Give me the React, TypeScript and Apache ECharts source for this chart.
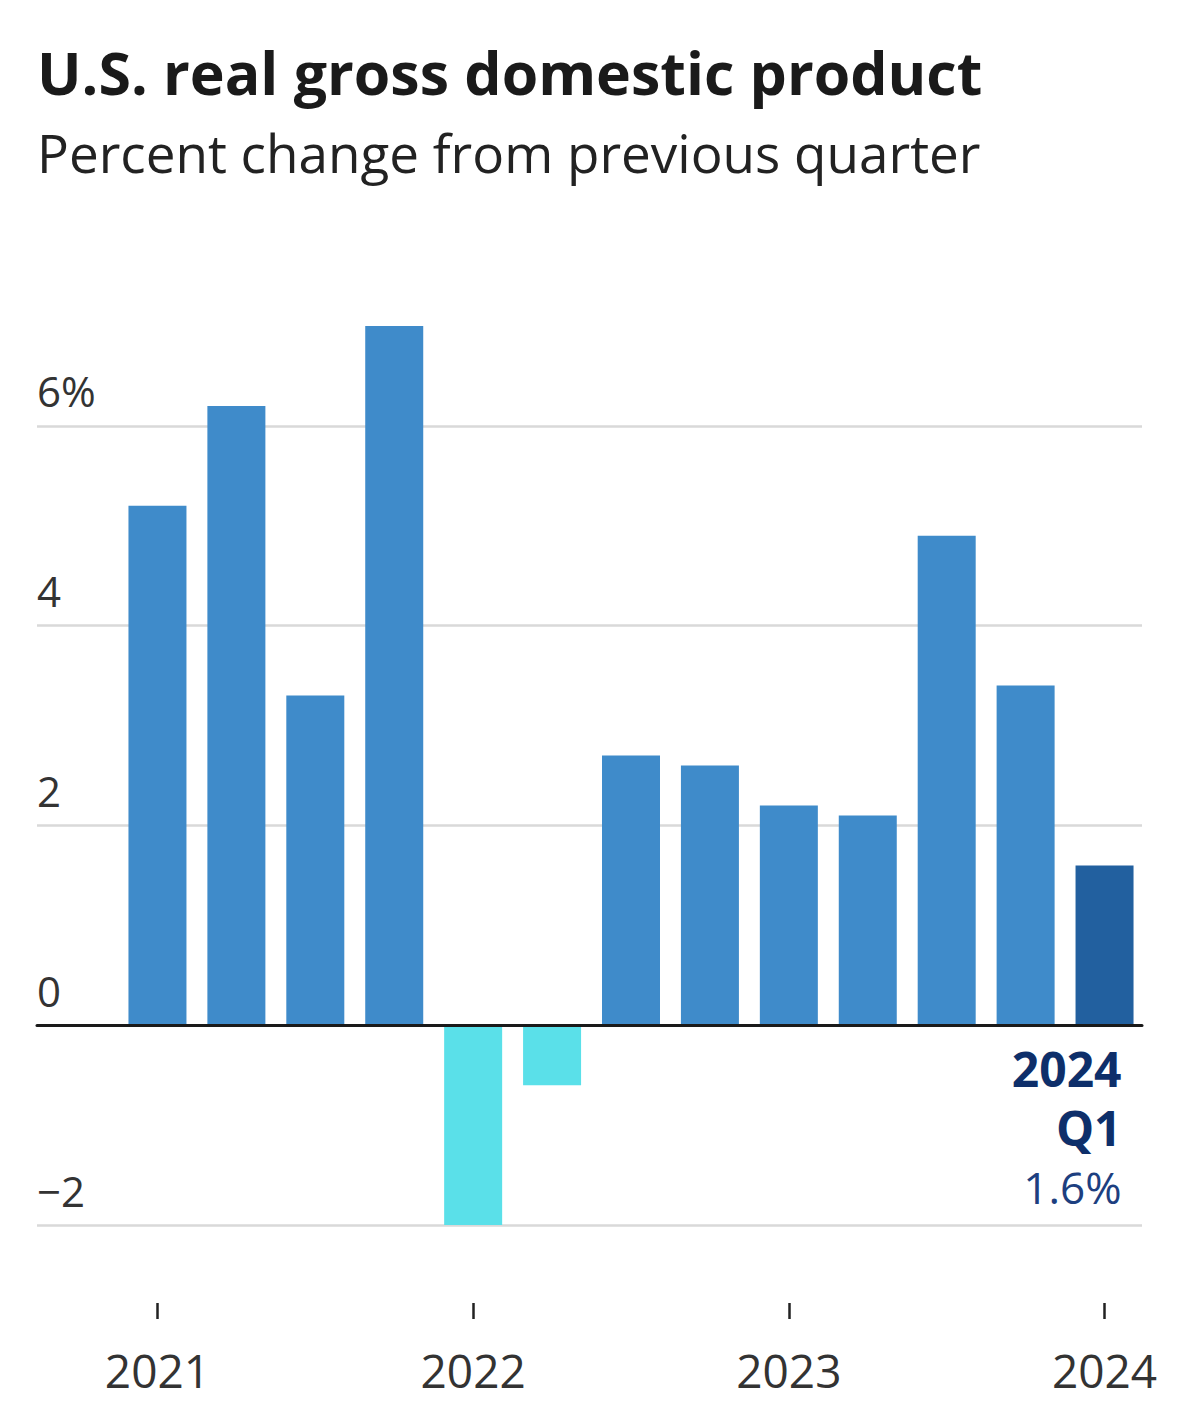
import React, { useEffect, useRef } from 'react';
import * as echarts from 'echarts';

// ---- Data ----
const quarters = [
  '2021 Q1', '2021 Q2', '2021 Q3', '2021 Q4',
  '2022 Q1', '2022 Q2', '2022 Q3', '2022 Q4',
  '2023 Q1', '2023 Q2', '2023 Q3', '2023 Q4',
  '2024 Q1',
];
const gdpChange = [5.2, 6.2, 3.3, 7.0, -2.0, -0.6, 2.7, 2.6, 2.2, 2.1, 4.9, 3.4, 1.6];
const yTicks = [-2, 0, 2, 4, 6];
const yMin = -2;
const yMax = 7;
const titleText = 'U.S. real gross domestic product';
const subtitleText = 'Percent change from previous quarter';

// ---- Styles ----
const FONT = 'Open Sans';
const COLOR_MAIN = '#3f8bca';
const COLOR_NEG = '#5ae0e9';
const COLOR_LATEST = '#22609f';
const COLOR_NAVY = '#0e2f6a';
const COLOR_NAVY_LIGHT = '#1d3f80';

const fmtY = (v: number) => {
  if (!yTicks.includes(v)) return '';
  const s = v < 0 ? '\u2212' + Math.abs(v) : String(v);
  return v === yTicks[yTicks.length - 1] ? s + '%' : s;
};

export default function App() {
  const ref = useRef<HTMLDivElement>(null);
  useEffect(() => {
    if (!ref.current) return;
    const chart = echarts.init(ref.current, undefined, { renderer: 'svg' });
    const last = gdpChange.length - 1;
    const gridTop = 326;
    const gridBottom = 1422 - 1225;
    chart.setOption({
      animation: false,
      backgroundColor: '#ffffff',
      title: [
        {
          text: titleText,
          left: 37,
          top: 42,
          padding: 0,
          textStyle: { fontSize: 59, fontWeight: 'bold', color: '#1a1a1a', fontFamily: FONT },
        },
        {
          text: subtitleText,
          left: 37,
          top: 126,
          padding: 0,
          textStyle: { fontSize: 53, fontWeight: 'normal', color: '#222222', fontFamily: FONT },
        },
      ],
      grid: [
        { left: 37, right: 58, top: gridTop, bottom: gridBottom },
        { left: 118, right: 56, top: gridTop, bottom: gridBottom },
      ],
      xAxis: [
        {
          gridIndex: 0,
          type: 'category',
          data: quarters,
          z: 3,
          axisLine: { show: true, onZero: true, lineStyle: { color: '#1a1a1a', width: 3 } },
          axisTick: { show: false },
          axisLabel: { show: false },
          splitLine: { show: false },
        },
        {
          gridIndex: 1,
          type: 'category',
          data: quarters,
          position: 'bottom',
          offset: 78,
          axisLine: { show: false, onZero: false },
          axisTick: {
            show: true,
            alignWithLabel: true,
            interval: (i: number) => i % 4 === 0,
            length: 16,
            lineStyle: { color: '#222222', width: 2.5 },
          },
          axisLabel: {
            interval: (i: number) => i % 4 === 0,
            formatter: (v: string) => v.split(' ')[0],
            fontSize: 46,
            margin: 44,
            color: '#333333',
            fontFamily: FONT,
          },
        },
      ],
      yAxis: [
        {
          gridIndex: 0,
          type: 'value',
          min: yMin,
          max: yMax,
          interval: 2,
          z: 0,
          axisLine: { show: false },
          axisTick: { show: false },
          splitLine: {
            show: true,
            showMaxLine: false,
            lineStyle: {
              color: ['#d9d9d9', '#1a1a1a', '#d9d9d9', '#d9d9d9', '#d9d9d9'],
              width: 2.5,
            },
          },
          axisLabel: {
            inside: true,
            margin: 0,
            align: 'left',
            verticalAlign: 'bottom',
            padding: [0, 0, 14, 0],
            fontSize: 42,
            color: '#333333',
            fontFamily: FONT,
            showMaxLabel: false,
            formatter: fmtY,
          },
        },
        {
          gridIndex: 1,
          type: 'value',
          min: yMin,
          max: yMax,
          interval: 2,
          show: false,
          splitLine: { show: false },
        },
      ],
      series: [
        {
          type: 'bar',
          xAxisIndex: 1,
          yAxisIndex: 1,
          barWidth: 58,
          data: gdpChange.map((v, i) => ({
            value: v,
            itemStyle: { color: i === last ? COLOR_LATEST : v < 0 ? COLOR_NEG : COLOR_MAIN },
            label:
              i === last
                ? {
                    show: true,
                    position: 'bottom',
                    distance: 14,
                    align: 'right',
                    offset: [17, 0],
                    formatter: (p: any) => {
                      const [yr, q] = String(p.name).split(' ');
                      return `{a|${yr}}\n{a|${q}}\n{b|${p.value}%}`;
                    },
                    rich: {
                      a: { fontSize: 48, fontWeight: 'bold', color: COLOR_NAVY, lineHeight: 59, fontFamily: FONT, align: 'right' },
                      b: { fontSize: 44, fontWeight: 'normal', color: COLOR_NAVY_LIGHT, lineHeight: 59, fontFamily: FONT, align: 'right' },
                    },
                  }
                : { show: false },
          })),
        },
      ],
    });
    return () => chart.dispose();
  }, []);
  return (
    <div
      ref={ref}
      style={{ position: 'absolute', left: 0, top: 0, width: 1200, height: 1422 }}
    />
  );
}
